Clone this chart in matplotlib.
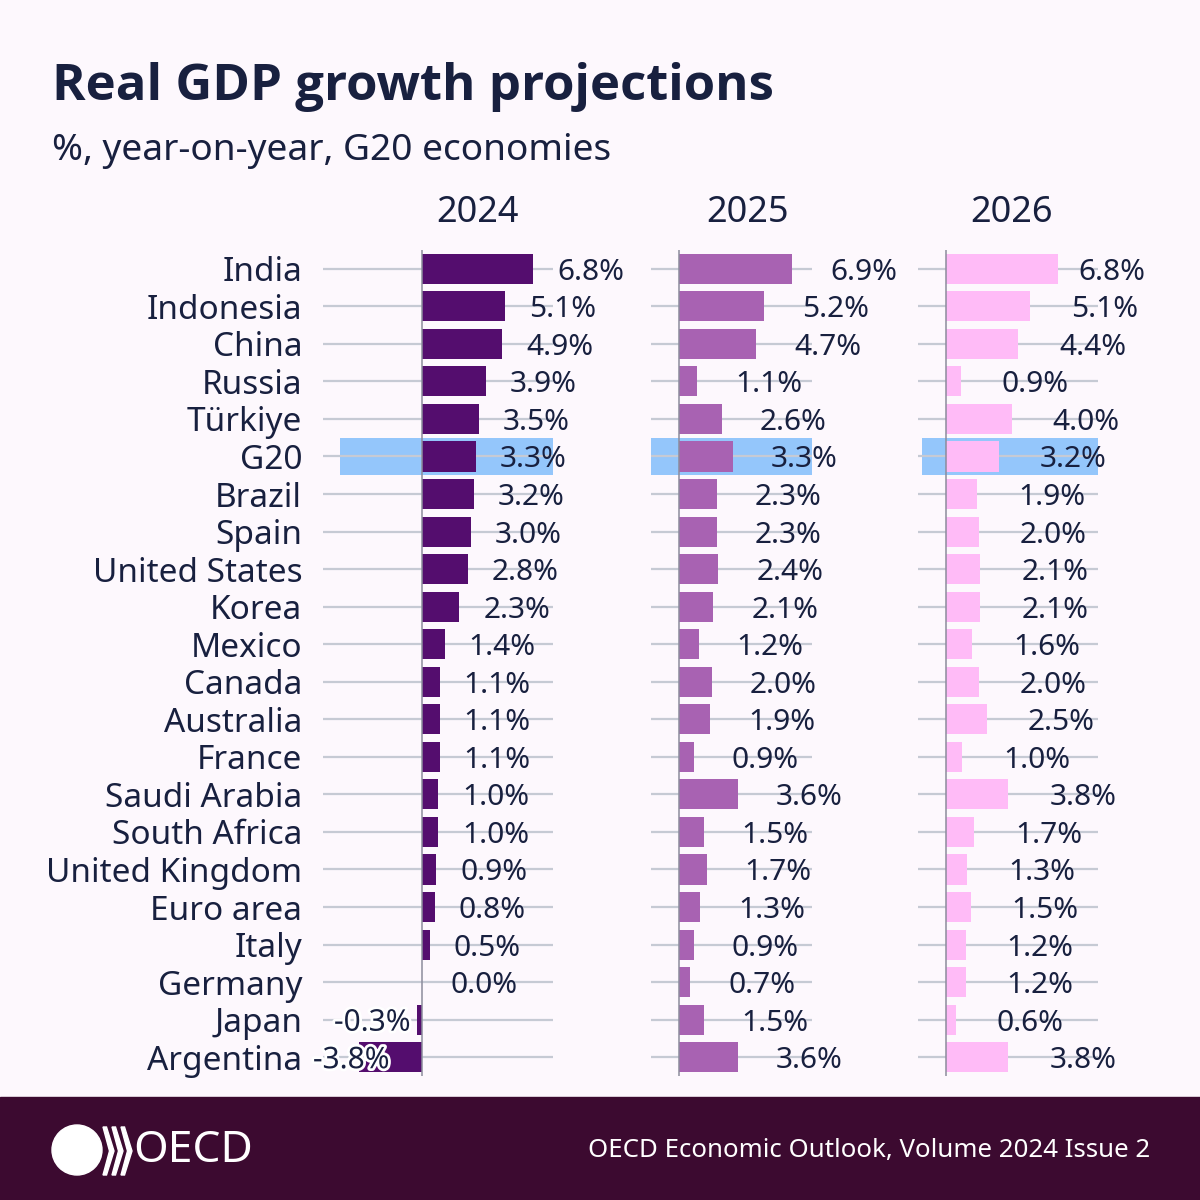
import matplotlib
matplotlib.use("Agg")
import matplotlib.pyplot as plt
import matplotlib.patheffects as pe
from matplotlib.patches import Rectangle, Circle, Polygon

# ---------------- data ----------------
countries = ["India", "Indonesia", "China", "Russia", "Türkiye", "G20", "Brazil", "Spain",
             "United States", "Korea", "Mexico", "Canada", "Australia", "France",
             "Saudi Arabia", "South Africa", "United Kingdom", "Euro area", "Italy",
             "Germany", "Japan", "Argentina"]
years = ["2024", "2025", "2026"]
g2024 = [6.8, 5.1, 4.9, 3.9, 3.5, 3.3, 3.2, 3.0, 2.8, 2.3, 1.4, 1.1, 1.1, 1.1, 1.0, 1.0,
         0.9, 0.8, 0.5, 0.0, -0.3, -3.8]
g2025 = [6.9, 5.2, 4.7, 1.1, 2.6, 3.3, 2.3, 2.3, 2.4, 2.1, 1.2, 2.0, 1.9, 0.9, 3.6, 1.5,
         1.7, 1.3, 0.9, 0.7, 1.5, 3.6]
g2026 = [6.8, 5.1, 4.4, 0.9, 4.0, 3.2, 1.9, 2.0, 2.1, 2.1, 1.6, 2.0, 2.5, 1.0, 3.8, 1.7,
         1.3, 1.5, 1.2, 1.2, 0.6, 3.8]
highlight = "G20"

# ---------------- style ----------------
BG = "#fdf8fd"
TXT = "#18203f"
COLORS = ["#540d6e", "#a862b2", "#ffbbf7"]
HL = "#94c6fb"
GRID = "#c6cad4"
FOOT = "#3c0a30"
FONT = ["Noto Sans", "DejaVu Sans"]
plt.rcParams["font.family"] = FONT

W = H = 1200
fig = plt.figure(figsize=(12, 12), dpi=100, facecolor=BG)

def fx(px):
    return px / W

def fy(py):
    return 1 - py / H

# panel geometry (pixels)
top_px, bot_px = 250, 1076
panels = [
    dict(left=323, right=553, xlim=(-6.0, 8.0), vals=g2024, off=1.46, minx=1.76, maxx=99, hl0=0.074),
    dict(left=651, right=812, xlim=(-1.7, 8.1), vals=g2025, off=2.31, minx=0.0, maxx=99, hl0=0.0),
    dict(left=918, right=1098, xlim=(-1.7, 9.25), vals=g2026, off=2.49, minx=0.0, maxx=8.05, hl0=0.02),
]

n = len(countries)
ypos = list(range(n))
for i, p in enumerate(panels):
    ax = fig.add_axes([fx(p["left"]), fy(bot_px), fx(p["right"] - p["left"]), (bot_px - top_px) / H])
    ax.set_facecolor("none")
    ax.set_xlim(*p["xlim"])
    ax.set_ylim(n - 0.5, -0.5)
    for s in ax.spines.values():
        s.set_visible(False)
    ax.set_xticks([])
    # gridlines
    for y in ypos:
        ax.axhline(y, color=GRID, lw=1.6, zorder=1)
    # highlight band
    hi = countries.index(highlight)
    ax.axhspan(hi - 0.5, hi + 0.5, xmin=p["hl0"], xmax=1, color=HL, zorder=0.5, lw=0)
    ax.barh(ypos, p["vals"], height=0.8, color=COLORS[i], zorder=2)
    ax.axvline(0, color="#8c8c9c", lw=1.1, zorder=3)
    # value labels
    for y, v in zip(ypos, p["vals"]):
        lab = f"{v:.1f}%"
        if v < 0:
            x = max(v - 0.36, -1.94)
            ax.text(x, y, lab, ha="right", va="center_baseline", fontsize=21.5, color=TXT, zorder=5,
                    path_effects=[pe.withStroke(linewidth=4, foreground="white")])
        else:
            x = min(max(v + p["off"], p["minx"]), p["maxx"])
            ax.text(x, y, lab, ha="left", va="center_baseline", fontsize=21.5, color=TXT, zorder=5)
    if i == 0:
        ax.set_yticks(ypos)
        ax.set_yticklabels(countries, fontsize=24, color=TXT)
        ax.tick_params(axis="y", length=0, pad=15)
    else:
        ax.set_yticks([])

# column headers
for name, xc in zip(years, [478, 748, 1012]):
    fig.text(fx(xc), fy(213), name, ha="center", va="center", fontsize=26, color=TXT)

# title & subtitle
fig.text(fx(52), fy(100), "Real GDP growth projections", ha="left", va="baseline",
         fontsize=36.6, fontweight="bold", color=TXT, family=["Open Sans", "Noto Sans", "DejaVu Sans"])
fig.text(fx(52), fy(160), "%, year-on-year, G20 economies", ha="left", va="baseline",
         fontsize=26.7, color=TXT)

# footer band
fig.patches.append(Rectangle((0, 0), 1, fx(103), transform=fig.transFigure, color=FOOT, zorder=0))
fig.text(fx(1150), fy(1150), "OECD Economic Outlook, Volume 2024 Issue 2", ha="right", va="center",
         fontsize=18.6, color="white")
# logo
fig.patches.append(Circle((fx(77), fy(1150)), fx(25), transform=fig.transFigure, color="white", zorder=2))
for k in range(3):
    x0 = 103 + k * 9
    pts = [(x0, 1127), (x0 + 3.5, 1127), (x0 + 11, 1151), (x0 + 3.5, 1175), (x0, 1175), (x0 + 6.5, 1151)]
    fig.patches.append(Polygon([(fx(a), fy(b)) for a, b in pts], closed=True,
                               transform=fig.transFigure, color="white", zorder=2))
fig.text(fx(133), fy(1151), "OECD", ha="left", va="center", fontsize=32, color="white")

fig.savefig("out.png", dpi=100, facecolor=BG)
